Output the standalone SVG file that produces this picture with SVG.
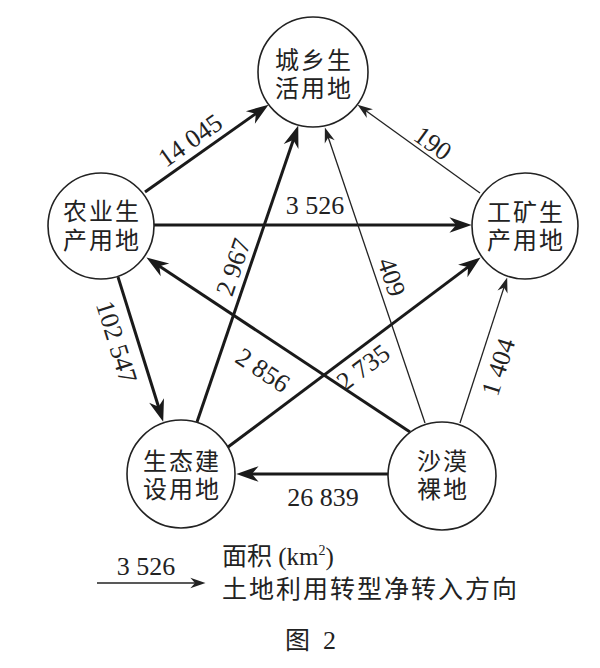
<svg xmlns="http://www.w3.org/2000/svg" width="600" height="668" viewBox="0 0 600 668">
<defs>
<style>
.node{fill:#fff;stroke:#222;stroke-width:1.6}
.nt{font-family:"Liberation Sans","Noto Sans CJK SC",sans-serif;font-size:24px;fill:#222;text-anchor:middle;letter-spacing:2px}
.thick{stroke:#1a1a1a;stroke-width:3;fill:none;marker-end:url(#ah)}
.thin{stroke:#222;stroke-width:1.3;fill:none;marker-end:url(#as)}
.lb{font-family:"Liberation Serif","Times New Roman",serif;font-size:26px;fill:#222;text-anchor:middle}
.cap{font-family:"Noto Sans CJK SC","Noto Sans",sans-serif;font-size:25px;fill:#222}
.ser{font-family:"Liberation Serif","Times New Roman",serif}
</style>
<marker id="ah" markerUnits="userSpaceOnUse" markerWidth="30" markerHeight="20" viewBox="-16 -9 24 18" refX="0" refY="0" orient="auto">
<path d="M6,0 L-14,-7 L-8,0 L-14,7 Z" fill="#1a1a1a"/>
</marker>
<marker id="as" markerUnits="userSpaceOnUse" markerWidth="20" markerHeight="14" viewBox="-12 -6 16 12" refX="0" refY="0" orient="auto">
<path d="M3,0 L-10,-4.5 L-6,0 L-10,4.5 Z" fill="#222"/>
</marker>
</defs>
<rect width="600" height="668" fill="#fff"/>
<g id="connectors">
<line class="thick" x1="145" y1="192" x2="263.1" y2="108.5"/>
<line class="thick" x1="154" y1="225" x2="465" y2="225"/>
<line class="thick" x1="410" y1="432" x2="152" y2="261.3"/>
<line class="thick" x1="228" y1="447" x2="475.2" y2="261.6"/>
<line class="thick" x1="197" y1="422" x2="296.1" y2="131.7"/>
<line class="thick" x1="118" y1="277" x2="161.2" y2="415.3"/>
<line class="thick" x1="388" y1="474" x2="243" y2="474"/>
<line class="thin" x1="480" y1="193" x2="360.4" y2="106.8"/>
<line class="thin" x1="425" y1="423" x2="326" y2="130.8"/>
<line class="thin" x1="460" y1="423" x2="506.1" y2="280.9"/>
<text class="lb" transform="translate(190,140) rotate(-35.3)" dy="9">14 045</text>
<text class="lb" x="315" y="214">3 526</text>
<text class="lb" transform="translate(433,143) rotate(35.8)" dy="9">190</text>
<text class="lb" transform="translate(392,277) rotate(71.3)" dy="9">409</text>
<text class="lb" transform="translate(498,367) rotate(-72)" dy="9">1 404</text>
<text class="lb" transform="translate(263,370) rotate(33.5)" dy="9">2 856</text>
<text class="lb" transform="translate(363,367) rotate(-36.9)" dy="9">2 735</text>
<text class="lb" transform="translate(233,267) rotate(-71.2)" dy="9">2 967</text>
<text class="lb" transform="translate(117,342) rotate(72.7)" dy="9">102 547</text>
<text class="lb" x="323" y="506">26 839</text>
</g>
<g id="n-urban">
<circle class="node" cx="313" cy="72" r="55"/>
<text class="nt" x="314" y="69">城乡生<tspan x="314" dy="28">活用地</tspan></text>
</g>
<g id="n-agri">
<circle class="node" cx="101" cy="226" r="53"/>
<text class="nt" x="102" y="220">农业生<tspan x="102" dy="29">产用地</tspan></text>
</g>
<g id="n-industry">
<circle class="node" cx="525" cy="226" r="53"/>
<text class="nt" x="526" y="221">工矿生<tspan x="526" dy="28">产用地</tspan></text>
</g>
<g id="n-eco">
<circle class="node" cx="181" cy="474" r="54"/>
<text class="nt" x="182" y="470">生态建<tspan x="182" dy="28">设用地</tspan></text>
</g>
<g id="n-desert">
<circle class="node" cx="442" cy="476" r="54"/>
<text class="nt" x="443" y="470">沙漠<tspan x="443" dy="28">裸地</tspan></text>
</g>
<g id="legend">
<line class="thin" x1="97" y1="583" x2="202" y2="583"/>
<text class="lb" x="146" y="575">3 526</text>
<text class="cap" x="222" y="564.5">面积<tspan class="ser" font-size="25"> (km</tspan><tspan class="ser" font-size="14" dy="-10">2</tspan><tspan class="ser" font-size="25" dy="10">)</tspan></text>
<text class="cap" x="222" y="598" letter-spacing="2">土地利用转型净转入方向</text>
<text class="cap" x="285" y="649">图<tspan class="ser" x="323" font-size="26">2</tspan></text>
</g>
</svg>
